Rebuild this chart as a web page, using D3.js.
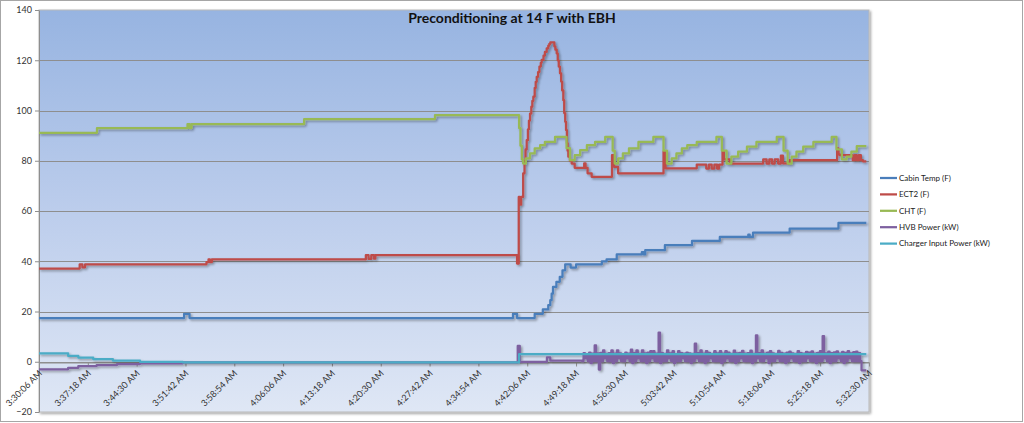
<!DOCTYPE html>
<html>
<head>
<meta charset="utf-8">
<script src="https://cdnjs.cloudflare.com/ajax/libs/d3/7.8.5/d3.min.js"></script>
<style>
body { margin: 0; background: #fff; }
svg { display: block; font-family: Lato, "Open Sans", sans-serif; }
</style>
</head>
<body>
<svg width="1024" height="423"></svg>
<script>
// x values are minutes after 3:30:06 AM
var tickLabels = ["3:30:06 AM","3:37:18 AM","3:44:30 AM","3:51:42 AM","3:58:54 AM","4:06:06 AM",
    "4:13:18 AM","4:20:30 AM","4:27:42 AM","4:34:54 AM","4:42:06 AM","4:49:18 AM","4:56:30 AM",
    "5:03:42 AM","5:10:54 AM","5:18:06 AM","5:25:18 AM","5:32:30 AM"];
var yTicks = [-20, 0, 20, 40, 60, 80, 100, 120, 140];
var seriesNames = ["Cabin Temp (F)", "ECT2 (F)", "CHT (F)", "HVB Power (kW)", "Charger Input Power (kW)"];
var seriesColors = ["#4a7ebb", "#be4b48", "#98b954", "#7d60a0", "#4bacc6"];

var cabinTemp = [[0,17.4],[21.4,19.1],[22.2,17.4],[69.9,19.1],[70.5,17.4],[73.1,19.1],[74.3,20.8],
    [75.1,22.5],[75.4,24.5],[75.6,27.1],[75.8,29.8],[76.3,31.8],[76.8,33.8],[77.2,36.4],[77.6,38.8],
    [78.4,37.5],[79.2,38.8],[83.0,40.0],[83.7,40.7],[85.2,42.7],[88.9,43.6],[89.2,42.7],[89.4,44.4],
    [92.3,46.4],[96.3,48.1],[100.4,49.7],[104.6,50.6],[104.8,49.7],[105.3,51.4],[110.7,53.0],
    [117.9,55.3],[122.0,55.3]];

var ect2 = [[0,37.1],[6.0,38.8],[6.4,37.6],[6.8,38.8],[24.7,39.7],[25.0,40.7],[25.2,39.7],[25.5,40.7],
    [48.2,42.4],[48.6,40.9],[49.0,42.4],[49.4,41.0],[49.6,42.4],[70.5,39.1],[70.75,65.6],[70.9,62.5],
    [71.1,65.6],[71.4,75.0],[71.6,80.0],[71.75,84.5],[71.92,88.2],[72.1,92.5],[72.25,96.0],[72.41,98.8],
    [72.6,101.5],[72.75,103.8],[72.9,105.5],[73.1,109.0],[73.25,111.4],[73.4,113.4],[73.6,115.3],
    [73.8,117.5],[74.0,119.0],[74.13,120.1],[74.4,121.8],[74.6,123.3],[74.87,124.7],[75.1,125.8],
    [75.25,126.5],[75.4,127.1],[76.0,125.5],[76.15,124.2],[76.35,122.7],[76.5,120.0],[76.65,117.5],
    [76.83,114.8],[77.0,111.5],[77.15,108.0],[77.32,104.1],[77.45,99.0],[77.6,95.5],[77.72,92.2],
    [77.85,87.0],[77.95,84.0],[78.06,81.6],[78.3,80.0],[78.56,78.9],[79.0,77.2],[80.4,79.0],[80.6,77.2],
    [80.9,75.0],[81.5,73.6],[84.5,82.2],[84.8,77.6],[85.4,75.0],[92.1,83.6],[92.4,77.0],[97.0,78.5],
    [98.4,76.9],[98.8,78.5],[99.2,76.9],[99.6,78.5],[100.0,76.9],[100.3,78.5],[100.8,83.9],[101.0,80.5],
    [101.9,78.9],[106.8,80.5],[107.3,78.9],[107.7,80.5],[108.1,78.9],[108.5,80.5],[109.0,78.9],
    [109.4,82.0],[109.7,79.0],[110.7,80.2],[117.7,84.9],[117.9,82.5],[118.1,82.2],[120.0,80.2],
    [120.3,82.2],[120.6,80.2],[120.9,82.2],[121.2,80.2],[121.5,79.8],[122.0,79.8]];

var cht = [[0,91.1],[8.55,93.0],[21.9,94.6],[22.2,93.0],[22.5,94.6],[39.1,96.6],[58.4,98.2],
    [70.8,93.0],[71.0,86.0],[71.2,80.5],[71.4,78.9],[71.8,80.9],[72.4,82.9],[73.1,84.9],[73.9,86.2],
    [74.6,87.5],[76.1,89.5],[77.8,85.0],[78.3,80.2],[79.0,82.2],[79.8,84.2],[80.8,86.2],[82.0,87.5],
    [83.5,89.5],[84.6,84.0],[84.9,78.9],[85.4,80.9],[86.1,82.9],[87.0,84.9],[88.4,87.5],[90.6,89.5],
    [92.1,84.0],[92.6,78.9],[93.3,80.9],[94.0,82.9],[94.8,84.9],[95.6,86.2],[97.0,87.5],[99.9,89.5],
    [100.7,84.0],[101.4,78.9],[102.1,81.6],[103.1,83.6],[104.4,85.6],[105.8,87.5],[108.8,89.5],
    [109.8,84.0],[110.4,78.9],[111.0,81.6],[111.7,83.6],[112.7,85.6],[114.2,87.5],[116.9,89.5],
    [117.6,84.5],[118.4,80.5],[119.1,81.6],[119.8,83.6],[120.6,85.8],[122.0,85.8]];

var chargerPower = [[0,3.3],[4.3,2.3],[5.8,1.6],[8.0,1.0],[10.9,0.4],[14.9,0.0],[21.2,-0.2],
    [70.8,3.0],[122.0,3.0]];

var hvbStart = [[0,-3.0],[4.3,-2.4],[5.8,-1.7],[8.5,-1.3],[11.5,-0.9],[14.9,-0.6],[21.2,-0.2],
    [70.6,6.3],[70.9,0.0],[74.9,1.7],[75.4,0.4]];
// charging pulses, one low and one high sample each, from 80.1 min every 0.41 min
var hvbPulseLow = [0.2,1.3,0.2,-0.5,0.2,0.2,-3.1,0.2,1.3,0.2, 0.2,-0.5,0.2,1.3,0.2,0.2,1.3,0.2,-0.5,0.2,
    1.3,0.2,0.2,-0.5,0.2,1.3,0.2,0.2,-0.5,0.2, 0.2,1.3,0.2,-0.5,0.2,0.2,1.3,0.2,0.2,-0.5,
    0.2,1.3,0.2,0.2,-0.5,0.2,1.3,0.2,0.2,0.2, -0.5,0.2,1.3,0.2,0.2,-0.5,0.2,1.3,0.2,0.2,
    0.2,-0.5,0.2,1.3,0.2,0.2,1.3,-0.5,0.2,0.2, 1.3,0.2,0.2,-0.5,0.2,1.3,0.2,0.2,-0.5,0.2,
    0.2,1.3,0.2,0.2,-0.5,0.2,0.2,1.3,0.2,-0.5, 0.2,0.2,1.3,0.2,-0.5,0.2,1.3,0.2,0.2,0.2];
var hvbPulseHigh = [3.4,3.0,3.6,3.2,6.5,3.3,3.5,4.5,3.1,3.4, 4.5,3.2,4.5,3.3,3.0,3.6,3.2,4.8,3.4,4.5,
    3.1,4.5,3.3,3.6,4.2,4.2,3.2,11.6,3.5,3.1, 4.5,3.3,4.2,3.0,4.2,3.4,3.2,3.6,3.3,3.1,
    7.2,3.4,4.5,3.2,4.2,3.5,3.1,4.2,3.3,4.2, 3.2,4.2,3.6,3.1,4.4,3.3,3.5,4.3,3.2,3.4,
    4.4,3.1,10.5,3.4,4.5,3.2,3.6,4.2,3.3,3.1, 4.3,3.5,3.2,3.6,4.0,3.3,3.1,4.2,3.4,3.2,
    3.9,3.6,4.1,3.2,3.5,4.2,10.2,3.3,4.0,3.4, 3.7,4.1,3.2,3.9,3.5,4.2,3.3,3.8,4.0,3.4];
var hvbEnd = [[121.1,0.2],[121.3,-3.4],[122.0,-3.4]];

function main(){
    var svg = d3.select("svg");
    var left = 39, right = 869, top = 10, bottom = 412;

    var x = d3.scaleLinear().domain([0, 122.4]).range([left, right]);
    var y = d3.scaleLinear().domain([-20, 140]).range([bottom, top]);

    var hvbPower = hvbStart.slice();
    hvbPulseHigh.forEach(function(h, i){
        var t = 80.1 + i * 0.41;
        hvbPower.push([t, hvbPulseLow[i]]);
        hvbPower.push([t + 0.205, h]);
    });
    hvbPower = hvbPower.concat(hvbEnd);
    var series = [cabinTemp, ect2, cht, hvbPower, chargerPower];

    var defs = svg.append("defs");
    var grad = defs.append("linearGradient").attr("id", "plotbg")
        .attr("x1", 0).attr("y1", 0).attr("x2", 0).attr("y2", 1);
    grad.append("stop").attr("offset", "0%").attr("stop-color", "#97b4e1");
    grad.append("stop").attr("offset", "50%").attr("stop-color", "#bccdec");
    grad.append("stop").attr("offset", "100%").attr("stop-color", "#dfe7f5");
    defs.append("filter").attr("id", "shadow")
        .attr("filterUnits", "userSpaceOnUse")
        .attr("x", 0).attr("y", 0).attr("width", 1024).attr("height", 423)
        .append("feDropShadow")
        .attr("dx", 1.5).attr("dy", 1.5).attr("stdDeviation", 1)
        .attr("flood-color", "#000").attr("flood-opacity", 0.35);

    // chart area border
    svg.append("rect")
        .attr("x", 0.5).attr("y", 0.5).attr("width", 1022).attr("height", 421)
        .attr("fill", "#fff").attr("stroke", "#a6a6a6");

    // plot area
    svg.append("rect")
        .attr("x", left).attr("y", top).attr("width", right - left).attr("height", bottom - top)
        .attr("fill", "url(#plotbg)").attr("stroke", "#b9b9b9")
        .attr("filter", "url(#shadow)");

    // gridlines
    svg.append("g").selectAll("line")
        .data(yTicks.filter(function(d){ return d > -20 && d < 140; }))
        .enter().append("line")
        .attr("x1", left).attr("x2", right)
        .attr("y1", function(d){ return Math.round(y(d)) + 0.5; })
        .attr("y2", function(d){ return Math.round(y(d)) + 0.5; })
        .attr("stroke", "#8e8e8e").attr("stroke-width", 1);

    var yAxis = svg.append("g")
        .attr("transform", "translate(" + left + ",0)")
        .call(d3.axisLeft(y).tickValues(yTicks).tickSize(4).tickPadding(3).tickSizeOuter(0));
    yAxis.selectAll("text").attr("font-size", 9).attr("fill", "#333").style("font-family", "Lato, sans-serif");
    yAxis.selectAll("line, path").attr("stroke", "#8e8e8e");

    var xAxis = svg.append("g")
        .attr("transform", "translate(0," + (Math.round(y(0)) + 0.5) + ")")
        .call(d3.axisBottom(x)
            .tickValues(d3.range(tickLabels.length).map(function(i){ return i * 7.2; }))
            .tickFormat(function(d, i){ return tickLabels[i]; })
            .tickSize(4).tickSizeOuter(0));
    xAxis.selectAll("line, path").attr("stroke", "#8e8e8e");
    xAxis.selectAll("text")
        .attr("font-size", 9).attr("fill", "#333").style("font-family", "Lato, sans-serif")
        .attr("text-anchor", "end")
        .attr("dy", "0.35em")
        .attr("transform", "translate(1,9) rotate(-45)")
        .attr("y", 0);

    var line = d3.line()
        .x(function(d){ return x(d[0]); })
        .y(function(d){ return y(d[1]); })
        .curve(d3.curveStepAfter);

    svg.append("g").attr("filter", "url(#shadow)")
        .selectAll("path")
        .data(series)
        .enter().append("path")
        .attr("d", line)
        .attr("fill", "none")
        .attr("stroke", function(d, i){ return seriesColors[i]; })
        .attr("stroke-width", 2.25)
        .attr("stroke-linejoin", "round");

    svg.append("text")
        .attr("x", 512).attr("y", 23)
        .attr("text-anchor", "middle")
        .attr("font-size", 14).attr("font-weight", "bold").attr("fill", "#111")
        .text("Preconditioning at 14 F with EBH");

    var legend = svg.append("g").selectAll("g")
        .data(seriesNames)
        .enter().append("g")
        .attr("transform", function(d, i){ return "translate(880," + (178 + i * 16.4) + ")"; });
    legend.append("line")
        .attr("x1", 0).attr("x2", 17).attr("y1", 0).attr("y2", 0)
        .attr("stroke", function(d, i){ return seriesColors[i]; })
        .attr("stroke-width", 2.25);
    legend.append("text")
        .attr("x", 19).attr("dy", "0.35em")
        .attr("font-size", 8).attr("fill", "#222")
        .text(function(d){ return d; });
}

main();
</script>
</body>
</html>
